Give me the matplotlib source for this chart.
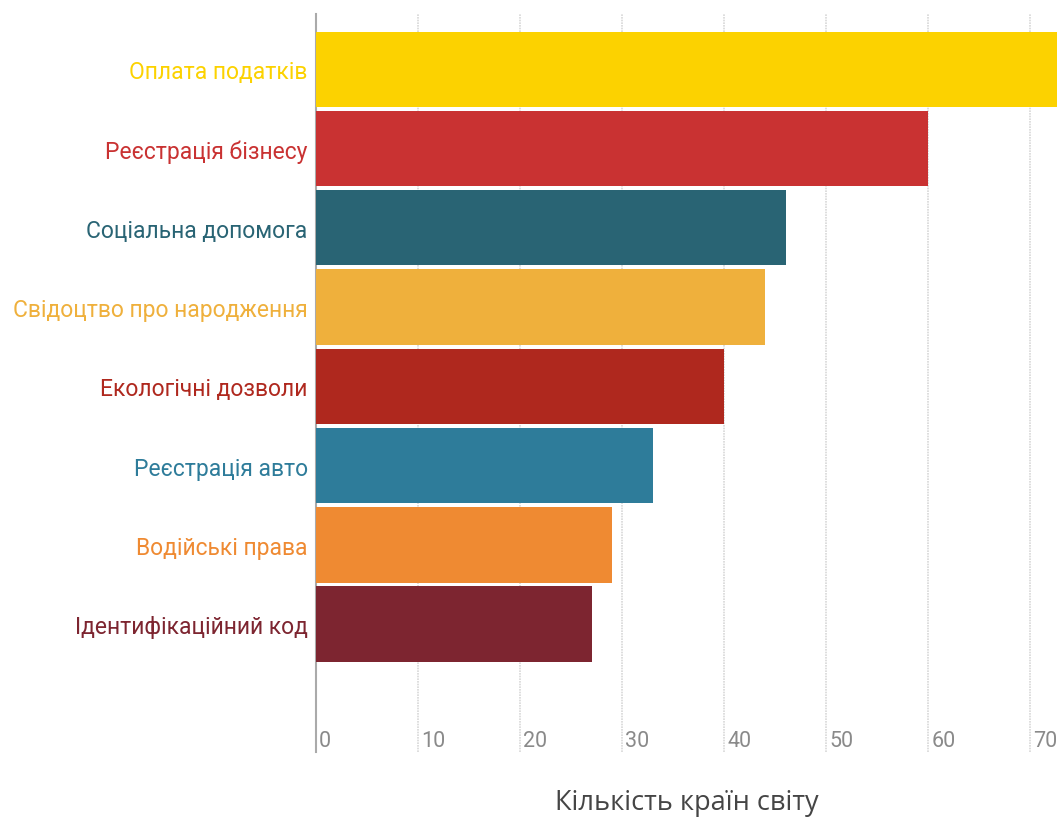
import matplotlib
matplotlib.use('Agg')
import matplotlib.pyplot as plt
import matplotlib.transforms as mtransforms
from matplotlib import font_manager

categories = ['Оплата податків', 'Реєстрація бізнесу', 'Соціальна допомога',
              'Свідоцтво про народження', 'Екологічні дозволи', 'Реєстрація авто',
              'Водійські права', 'Ідентифікаційний код']
values = [75, 60, 46, 44, 40, 33, 29, 27]
colors = ['#FCD200', '#C93232', '#296474', '#EFB03C', '#AF281E', '#2E7C9A', '#EF8A32', '#7D2530']
ticks = [0, 10, 20, 30, 40, 50, 60, 70]
xlabel = 'Кількість країн світу'

names = {f.name for f in font_manager.fontManager.ttflist}
narrow = 'Liberation Sans Narrow' if 'Liberation Sans Narrow' in names else 'Roboto'
plt.rcParams['font.family'] = [narrow, 'DejaVu Sans']

fig = plt.figure(figsize=(10.57, 8.2), dpi=100)
ax = fig.add_axes([0.299, 0.082, 0.701, 0.9])

ypos = list(range(len(categories)))
ax.barh(ypos, values, height=0.95, color=colors, zorder=3)
ax.set_xlim(0, 72.6)
ax.set_ylim(len(categories) - 1 + 1.61, -0.70)

ax.set_xticks(ticks)
ax.grid(axis='x', color='#d8d8d8', linewidth=1.2, linestyle=(0, (1, 0.6)), zorder=0)
ax.tick_params(axis='x', length=0, labelbottom=False)
ax.tick_params(axis='y', length=0, pad=6)
ax.set_yticks(ypos)
ax.set_yticklabels(categories, fontsize=16.5)
for lbl, c in zip(ax.get_yticklabels(), colors):
    lbl.set_color(c)

for s in ['top', 'right', 'bottom']:
    ax.spines[s].set_visible(False)
ax.spines['left'].set_color('#aaaaaa')
ax.spines['left'].set_linewidth(1.5)

trans = mtransforms.blended_transform_factory(ax.transData, ax.transAxes)
for t in ticks:
    ax.text(t + 0.3, 0.008, str(t), transform=trans, ha='left', va='baseline',
            fontsize=15.5, color='#8a8a8a')

fig.text(0.65, 0.021, xlabel, ha='center', va='center', fontsize=19.5,
         color='#454545', family=['Open Sans', 'DejaVu Sans'])

fig.savefig('out.png', dpi=100)
